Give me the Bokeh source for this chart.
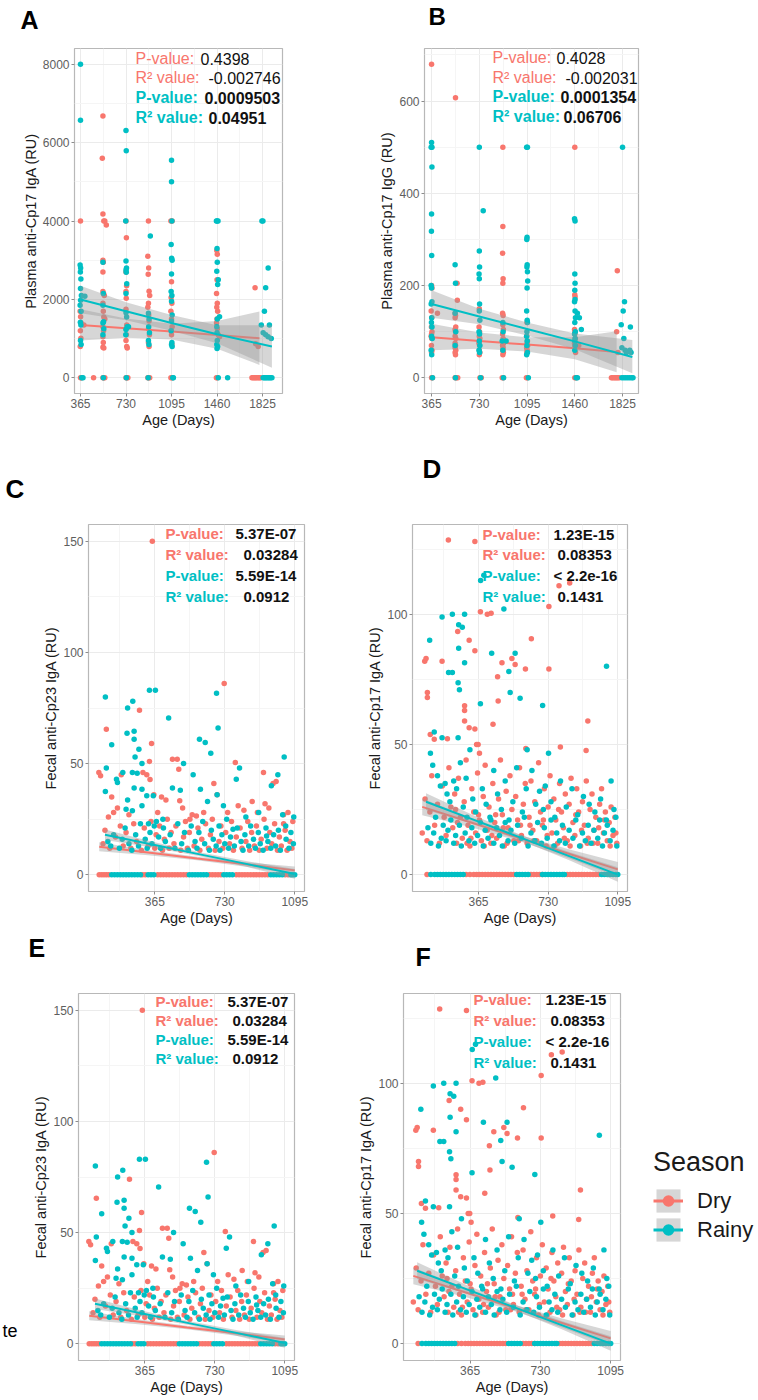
from bokeh.plotting import figure
from bokeh.models import FixedTicker, Label, Range1d, Legend, LegendItem
from bokeh.layouts import column, row
from bokeh.embed import file_html
from bokeh.resources import INLINE

DRY = "#F8766D"
RAINY = "#00BFC4"
FONT = "Liberation Sans"
season_labels = ["Dry", "Rainy"]

# ---------------- Panel A : Plasma anti-Cp17 IgA ----------------
a_dry = [(365,4000),(362,1700),(366,1560),(370,1400),(364,1200),(368,1010),(363,800),(365,0),(372,0),(392,1350),(470,0),
         (545,6680),(540,5600),(545,4180),(552,4000),(560,4000),(572,3900),(545,3000),(548,2950),(545,2700),(545,2200),
         (550,2150),(556,2100),(545,1900),(548,1700),(552,1550),(560,1500),(545,1300),(550,1200),(545,1050),(548,900),
         (545,780),(552,760),(545,0),(552,0),(560,0),
         (730,4000),(733,3570),(730,2700),(735,2350),(730,2200),(732,2030),(730,1750),(736,1350),(730,1250),(733,1100),
         (730,950),(736,800),(740,760),(730,0),(738,0),(745,0),
         (910,4000),(905,3100),(912,2800),(908,2640),(915,2210),(920,2100),(910,1900),(905,1800),(912,1600),(915,1450),
         (910,1250),(918,1100),(910,900),(915,800),(905,0),(912,0),(920,0),
         (1090,4000),(1100,4000),(1095,2450),(1092,2050),(1098,1900),(1090,1700),(1095,1500),(1100,1300),(1092,1200),
         (1095,1100),(1098,850),(1090,0),(1100,0),
         (1458,3250),(1462,3150),(1460,2500),(1456,2150),(1462,1900),(1458,1800),(1465,1700),(1460,1500),(1456,1400),
         (1462,1250),(1470,1100),(1480,1050),(1455,0),(1462,0),
         (1765,2300),(1770,870),(1790,800),(1740,0),(1750,0),(1760,0),(1770,0),(1780,0),(1790,0),(1800,0),(1810,0)]
a_rainy = [(365,8000),(365,6570),(362,2880),(366,2800),(364,2700),(368,2520),(365,2280),(372,2100),(366,1980),(362,1850),
           (370,1700),(364,1420),(368,1350),(365,950),(370,850),(375,0),(385,0),(400,2080),
           (545,2950),(548,2150),(545,1850),(550,1430),(545,1400),(552,1250),(545,1100),(548,0),
           (730,6310),(732,5790),(728,4000),(730,2980),(734,2800),(730,2750),(732,2690),(736,2400),(730,2150),(730,1660),
           (735,1550),(730,1230),(728,1100),(740,1300),(750,1300),(733,0),
           (925,3620),(910,1650),(915,1500),(912,1300),(918,1150),(910,950),(914,850),(908,0),
           (1095,5550),(1095,5000),(1098,4000),(1092,3400),(1096,3050),(1100,3000),(1095,2650),(1092,2200),(1098,2100),
           (1095,1950),(1100,1600),(1095,1450),(1092,1200),(1098,900),(1095,850),(1100,800),(1105,0),(1110,0),
           (1455,4000),(1460,4000),(1468,4000),(1460,3300),(1462,2950),(1458,2720),(1470,2500),(1465,2380),(1480,1560),
           (1462,1500),(1458,1300),(1460,1150),(1462,950),(1458,850),(1465,800),(1460,750),(1470,0),(1545,0),
           (1820,4000),(1828,4000),(1870,2800),(1850,2300),(1840,1700),(1815,1350),(1880,1350),(1830,1150),(1850,1100),
           (1870,1050),(1895,1000),(1830,0),(1840,0),(1850,0),(1860,0),(1870,0),(1880,0),(1890,0),(1900,0)]
a_fit_dry_x = [365, 730, 1095, 1460, 1800]
a_fit_dry_y = [1350, 1265, 1180, 1095, 1010]
a_fit_dry_lo = [950, 1020, 980, 740, 330]
a_fit_dry_hi = [1750, 1510, 1380, 1450, 1690]
a_fit_rainy_x = [365, 730, 1095, 1460, 1900]
a_fit_rainy_y = [2000, 1700, 1400, 1110, 800]
a_fit_rainy_lo = [1650, 1470, 1200, 880, 260]
a_fit_rainy_hi = [2350, 1930, 1600, 1340, 1340]
a_xticks = [365, 730, 1095, 1460, 1825]
a_yticks = [0, 2000, 4000, 6000, 8000]
a_stats = ["0.4398", "-0.002746", "0.0009503", "0.04951"]

# ---------------- Panel B : Plasma anti-Cp17 IgG ----------------
b_dry = [(365,680),(365,200),(368,195),(362,145),(366,130),(364,110),(368,100),(365,95),(362,90),(366,85),(364,70),(368,60),
         (365,55),(365,0),(372,0),(410,140),
         (548,607),(560,205),(562,168),(545,140),(548,135),(545,130),(550,110),(545,105),(548,100),(545,90),(550,85),
         (545,75),(548,70),(545,65),(550,60),(545,55),(548,50),(545,0),(555,0),(565,0),
         (730,150),(728,110),(732,100),(730,90),(734,85),(730,80),(728,75),(732,70),(730,60),(734,55),(730,50),(735,0),(745,0),
         (910,500),(910,328),(908,270),(912,215),(910,205),(908,140),(912,135),(910,115),(914,105),(908,95),(912,85),
         (910,80),(915,75),(908,70),(912,65),(910,60),(914,55),(910,50),(905,0),(915,0),
         (1095,120),(1092,90),(1098,80),(1095,75),(1100,70),(1092,65),(1096,60),(1094,55),(1090,0),(1098,0),
         (1460,500),(1460,180),(1462,175),(1458,105),(1462,100),(1460,95),(1464,85),(1458,75),(1462,70),(1460,65),
         (1466,55),(1460,0),(1470,0),(1490,70),
         (1785,232),(1780,100),(1790,55),(1740,0),(1750,0),(1760,0),(1770,0),(1780,0),(1790,0),(1800,0)]
b_rainy = [(365,510),(362,500),(368,500),(368,457),(365,355),(364,318),(366,265),(362,200),(365,195),(368,165),(362,160),
           (366,130),(364,120),(368,110),(365,90),(370,85),(362,60),(366,50),(372,0),
           (545,245),(548,205),(545,140),(550,100),(545,70),(548,0),
           (730,500),(730,275),(732,240),(728,225),(730,215),(732,160),(730,145),(734,125),(728,100),(732,95),(730,80),
           (734,70),(728,60),(732,55),(740,0),(760,362),
           (910,120),(912,100),(905,80),(935,80),(910,60),(915,0),
           (1092,500),(1098,500),(1095,305),(1093,300),(1096,245),(1094,240),(1098,230),(1100,210),(1095,195),(1092,145),
           (1096,125),(1098,120),(1094,100),(1092,90),(1096,80),(1094,70),(1098,55),(1092,50),(1105,0),
           (1458,345),(1462,340),(1460,225),(1462,205),(1460,190),(1462,170),(1458,165),(1462,145),(1465,130),(1460,120),
           (1464,100),(1458,95),(1462,85),(1460,80),(1464,70),(1460,60),(1480,140),(1495,130),(1510,105),(1470,0),(1480,0),
           (1825,500),(1840,165),(1830,145),(1815,115),(1835,85),(1820,65),(1845,60),(1855,55),(1885,110),(1880,60),
           (1890,55),(1820,0),(1835,0),(1850,0),(1865,0),(1880,0),(1895,0),(1905,0)]
b_fit_dry_x = [365, 730, 1095, 1460, 1780]
b_fit_dry_y = [88, 80, 72, 64, 56]
b_fit_dry_lo = [60, 63, 57, 40, 12]
b_fit_dry_hi = [117, 98, 88, 88, 101]
b_fit_rainy_x = [365, 730, 1095, 1460, 1900]
b_fit_rainy_y = [160, 133, 106, 79, 45]
b_fit_rainy_lo = [130, 116, 92, 62, 10]
b_fit_rainy_hi = [190, 150, 120, 96, 82]
b_xticks = [365, 730, 1095, 1460, 1825]
b_yticks = [0, 200, 400, 600]
b_stats = ["0.4028", "-0.002031", "0.0001354", "0.06706"]

# ---------------- Panels C / E : Fecal anti-Cp23 IgA ----------------
c_dry = [(73,46),(82,44.5),(112,65.5),(123,26),(140,35),(150,28),(170,30),(190,45),(230,27),(285,74),(303,46),(323,45),
         (337,51),(340,42.8),(348,59),(352,150),(360,36),(380,28),(400,35),(423,33.6),(457,52),(482,52),(490,47.5),
         (495,33.3),(510,30),(548,25),(560,27),(582,26.5),(620,28),(673,41),(690,36),(727,86),(745,28),(785,50.5),
         (800,31),(830,29),(873,33),(900,28),(932,46),(940,32),(960,30),(982,41),(998,42),(1037,27),(1037,23),(1060,28),
         (95,14),(105,20),(130,12),(160,17),(185,22),(200,13),(215,19),(240,12),(255,23),(270,15),(295,11),(310,21),
         (330,13),(345,24),(365,12),(372,18),(390,22),(405,11),(415,16),(430,25),(440,12),(450,19),(465,14),(475,22),
         (500,11),(515,17),(525,24),(535,12),(545,19),(570,13),(590,21),(600,11),(610,16),(630,23),(645,12),(655,18),
         (665,25),(680,11),(700,15),(710,22),(720,12),(735,19),(755,14),(765,24),(775,11),(790,17),(810,21),(820,12),
         (840,15),(850,24),(860,11),(870,19),(885,13),(895,22),(910,11),(920,16),(935,25),(950,12),(965,19),(975,14),
         (990,23),(1005,11),(1015,17),(1025,13),(1045,20),(1055,11),(1070,15),(1080,12),(1085,24)]
c_rainy = [(107,80),(112,48),(107,37.5),(140,58.5),(165,43),(170,41.5),(198,46),(215,29.5),(220,63.6),(223,75),(223,33.6),
           (248,46),(248,28.8),(250,78),(257,64.5),(257,61),(257,39),(262,53),(273,45.7),(282,56.5),(298,50),(298,38.5),
           (298,31),(323,35.5),(332,23),(337,83),(357,35.5),(368,83),(373,24),(407,25),(437,70.5),(457,39),(498,38),
           (515,50),(565,45),(598,61),(603,38.5),(628,59.5),(640,33),(657,54.6),(687,81.6),(690,36),(695,66),(723,31),
           (773,20.5),(790,43),(807,48),(840,26),(907,28),(948,17.5),(973,40),(1007,45),(1032,27),(1040,53),(1048,22),
           (120,15),(135,13),(150,18),(180,12),(195,16),(210,21),(230,14),(245,11),(265,18),(280,13),(290,23),(315,16),
           (325,12),(340,19),(350,14),(362,22),(385,17),(395,12),(410,21),(420,15),(445,18),(470,12),(485,23),(505,14),
           (520,19),(540,11),(555,22),(575,15),(585,12),(595,19),(615,24),(625,14),(650,11),(660,20),(670,16),(685,13),
           (700,22),(705,11),(715,18),(730,14),(740,25),(750,12),(760,17),(780,13),(795,21),(815,15),(825,11),(835,18),
           (855,13),(865,22),(880,16),(890,12),(905,19),(915,14),(930,11),(945,21),(955,15),(970,12),(985,18),(995,13),
           (1010,20),(1020,11),(1050,16),(1065,12),(1075,19),(1088,14),(1090,26)]
c_dry_zero_x = [75,88,100,112,125,300,315,380,395,410,425,440,455,470,485,500,515,530,650,665,680,695,710,790,805,
                820,835,850,865,880,895,910,925,940,955,1045,1060]
c_rainy_zero_x = [140,155,170,185,200,215,230,245,260,275,290,330,345,360,545,560,575,590,605,620,635,725,740,755,770,
                  970,985,1000,1015,1030,1075,1085,1095]
c_fit_dry_x = [75, 330, 585, 840, 1095]
c_fit_dry_y = [12.6, 10.0, 7.3, 4.7, 2.0]
c_fit_dry_lo = [10.6, 8.8, 6.5, 3.6, 0.3]
c_fit_dry_hi = [14.6, 11.1, 8.1, 5.7, 3.7]
c_fit_rainy_x = [105, 352, 600, 848, 1095]
c_fit_rainy_y = [18.0, 13.6, 9.2, 4.8, 0.4]
c_fit_rainy_lo = [15.6, 12.3, 8.3, 3.5, -1.8]
c_fit_rainy_hi = [20.4, 14.9, 10.1, 6.1, 2.6]
c_xticks = [365, 730, 1095]
c_yticks = [0, 50, 100, 150]
c_stats = ["5.37E-07", "0.03284", "5.59E-14", "0.0912"]

# ---------------- Panels D / F : Fecal anti-Cp17 IgA ----------------
d_dry = [(207,128.5),(346,128),(787,111),(843,112),(734,103),(375,101),(411,100),(431,100.4),(256,93.4),(316,90),
         (642,90.6),(346,86),(83,82),(90,83),(174,82),(488,81.4),(557,80.7),(611,79),(734,79),(540,83),(465,76),(97,70),
         (97,68),(468,66.7),(292,64.9),(292,63),(292,59),(316,56.4),(346,55.9),(441,57.8),(938,59),(112,53.8),(133,52),
         (202,52.2),(355,50),(363,50),(613,48.4),(794,49),(929,47.7),(370,46.6),
         (70,16),(85,29),(95,13),(110,24),(120,38),(135,19),(150,27),(160,12),(175,34),(185,22),(195,15),(210,41),
         (220,26),(230,18),(240,31),(250,12),(260,37),(270,22),(280,14),(290,28),(300,44),(310,19),(320,11),(330,33),
         (340,24),(350,16),(360,39),(370,21),(380,13),(390,30),(400,42),(410,17),(420,26),(430,12),(440,35),(450,20),
         (460,14),(470,29),(480,44),(490,23),(500,11),(510,32),(520,18),(530,38),(540,25),(550,13),(560,30),(570,21),
         (580,41),(590,15),(600,27),(610,35),(620,12),(630,22),(640,36),(650,17),(660,28),(670,13),(680,43),(690,24),
         (700,19),(710,33),(720,11),(730,26),(740,38),(750,16),(760,29),(770,21),(780,12),(790,35),(800,24),(810,18),
         (820,31),(830,13),(840,27),(850,37),(860,20),(870,15),(880,33),(890,24),(900,11),(910,28),(920,19),(930,36),
         (940,14),(950,25),(960,31),(970,17),(980,22),(990,12),(1000,27),(1010,33),(1020,16),(1030,24),(1040,13),
         (1050,20),(1060,26),(1070,15),(1080,22),(1090,12),
         (255,20),(325,14),(395,11),(455,23),(515,12),(585,19),(655,13),(705,21),(765,11),(815,14),(875,23),(935,12),
         (995,18),(1055,11),(245,25),(305,12),(365,23),(435,15),(495,18),(575,13),(635,19),(725,15),(785,25),(845,11),
         (905,17),(965,12),(1025,21),(1085,16)]
d_rainy = [(376,113),(393,115),(498,102),(174,99),(228,100),(292,100),(261,96),(280,95),(109,90),(261,87),(434,85),
           (557,85),(292,81.4),(208,77.6),(228,77.6),(1036,80),(524,78),(258,73.7),(265,71),(531,70),(583,67.7),
           (375,65.6),(701,65),(133,54.8),(174,52.6),(258,52.6),(320,48),(620,48),(732,46.6),(113,46.6),
           (125,42),(150,38),(165,34),(190,35),(200,31),(215,28),(235,36),(250,33),(270,43),(285,26),(300,37),(335,29),
           (350,24),(385,33),(405,27),(425,22),(445,40),(465,31),(485,25),(505,36),(525,21),(545,28),(565,41),(595,24),
           (615,33),(645,40),(665,27),(685,32),(705,25),(715,34),(745,28),(765,22),(795,36),(825,26),(855,33),(885,23),
           (915,30),(945,27),(975,24),(1005,29),(1035,21),(1060,36),(1075,25),(1085,22),
           (100,18),(115,12),(130,16),(140,22),(155,11),(170,14),(180,19),(195,13),(205,17),(220,21),(235,12),(245,15),
           (265,19),(275,11),(295,16),(305,22),(315,13),(330,18),(345,12),(360,15),(375,20),(390,11),(400,17),(415,14),
           (430,21),(445,12),(460,18),(475,15),(490,11),(505,20),(520,13),(535,17),(555,12),(570,19),(590,14),(605,22),
           (625,11),(640,16),(660,13),(675,20),(695,12),(710,18),(725,14),(745,21),(760,11),(775,16),(790,13),(805,19),
           (820,12),(840,17),(860,14),(875,21),(895,11),(910,16),(925,13),(940,19),(955,12),(970,17),(990,14),(1000,21),
           (1015,11),(1025,16),(1040,19),(1055,13),(1070,17),(1090,11)]
d_dry_zero_x = [95,300,320,340,355,370,385,400,415,430,445,460,475,490,505,520,535,550,640,655,670,685,700,830,845,
                860,875,890,905,920,935,950,965,980,995]
d_rainy_zero_x = [115,135,150,165,180,195,210,225,240,255,270,285,565,580,595,610,625,700,715,730,745,760,775,790,805,
                  815,1010,1025,1040,1055,1070,1085,1095]
d_fit_dry_x = [70, 326, 582, 838, 1095]
d_fit_dry_y = [26.0, 20.0, 14.0, 8.0, 2.0]
d_fit_dry_lo = [22.8, 18.2, 12.8, 6.3, -0.8]
d_fit_dry_hi = [29.2, 21.8, 15.2, 9.7, 4.8]
d_fit_rainy_x = [90, 341, 592, 844, 1095]
d_fit_rainy_y = [28.0, 21.0, 14.0, 7.0, 0.0]
d_fit_rainy_lo = [24.8, 19.3, 12.9, 5.4, -2.8]
d_fit_rainy_hi = [31.2, 22.7, 15.1, 8.6, 2.8]
d_xticks = [365, 730, 1095]
d_yticks = [0, 50, 100]
d_stats = ["1.23E-15", "0.08353", "< 2.2e-16", "0.1431"]

stat_labels = ["P-value:", "R\u00b2 value:", "P-value:", "R\u00b2 value:"]
stat_colors = [DRY, DRY, RAINY, RAINY]


def mids(t, lo, hi):
    step = t[1] - t[0]
    out = [t[0] - step / 2] + [(a + b) / 2 for a, b in zip(t[:-1], t[1:])] + [t[-1] + step / 2]
    return [m for m in out if lo < m < hi]


def make_panel(g, xr, yr, xticks, yticks, ylabel, tick_fs, lab_fs):
    fw, fh = g["w"], g["h"]
    p = figure(width=fw, height=fh, x_range=Range1d(*xr), y_range=Range1d(*yr),
               output_backend="svg", toolbar_location=None,
               min_border_left=g["l"], min_border_right=fw - g["l"] - g["fw"],
               min_border_top=g["t"], min_border_bottom=fh - g["t"] - g["fh"])
    p.xaxis.ticker = FixedTicker(ticks=xticks, minor_ticks=mids(xticks, *xr))
    p.yaxis.ticker = FixedTicker(ticks=yticks, minor_ticks=mids(yticks, *yr))
    p.xaxis.major_label_overrides = {t: str(t) for t in xticks}
    p.yaxis.major_label_overrides = {t: str(t) for t in yticks}
    p.xaxis.axis_label = "Age (Days)"
    p.yaxis.axis_label = ylabel
    p.grid.grid_line_color = "#EBEBEB"
    p.grid.minor_grid_line_color = "#F5F5F5"
    p.axis.axis_line_color = None
    p.axis.major_tick_out = 3
    p.axis.major_tick_in = 0
    p.axis.minor_tick_out = 0
    p.axis.minor_tick_in = 0
    p.axis.major_tick_line_color = "#8C8C8C"
    p.axis.major_label_text_color = "#5E5E5E"
    p.axis.major_label_text_font = FONT
    p.axis.major_label_text_font_size = tick_fs
    p.axis.major_label_standoff = 2
    p.axis.axis_label_text_font = FONT
    p.axis.axis_label_text_font_size = lab_fs
    p.axis.axis_label_text_font_style = "normal"
    p.axis.axis_label_text_color = "#1A1A1A"
    p.axis.axis_label_standoff = 1
    p.outline_line_color = "#B8B8B8"
    p.outline_line_width = 1.2
    p.background_fill_color = "white"
    p.border_fill_color = "white"
    return p


def make_blank(g, frame_top=0, frame_h=None):
    p = figure(width=g["w"], height=g["h"], x_range=Range1d(0, 1), y_range=Range1d(0, 1),
               x_axis_type=None, y_axis_type=None, output_backend="svg", toolbar_location=None,
               min_border=0, min_border_left=0, min_border_right=0, min_border_top=0, min_border_bottom=0)
    p.outline_line_color = None
    p.background_fill_color = "white"
    p.border_fill_color = "white"
    # the frame of a blank plot is aligned with its row neighbours' frames
    g["l"], g["t"], g["fh"] = 0, frame_top, (g["h"] if frame_h is None else frame_h)
    return p


def draw_series(p, pts, zeros, fx, fy, flo, fhi, color):
    xs = [q[0] for q in pts] + list(zeros)
    ys = [q[1] for q in pts] + [0] * len(zeros)
    sc = p.scatter(xs, ys, size=5.5, fill_color=color, line_color=None)
    band = p.varea(x=fx, y1=flo, y2=fhi, fill_color="#999999", fill_alpha=0.4)
    ln = p.line(fx, fy, line_color=color, line_width=2)
    return sc, band, ln


def add_text(p, g, px, py, text, color, bold, size):
    p.add_layout(Label(x=px - g["l"] - g["x0"], y=(g["y0"] + g["t"] + g["fh"]) - py,
                       x_units="screen", y_units="screen", text=text,
                       text_color=color, text_font=FONT, text_font_size=size,
                       text_font_style="bold" if bold else "normal",
                       text_baseline="middle", text_align="left"))


def add_stats(p, g, lx, ys, vxs, stats, bolds, size):
    for i in range(4):
        add_text(p, g, lx, ys[i], stat_labels[i], stat_colors[i], bolds[i], size)
        add_text(p, g, vxs[i], ys[i], stats[i], "#111111", bolds[i], size)


# layout geometry (canvas px): figure origin, size, frame offset and frame size
gS1 = dict(x0=0, y0=0, w=758, h=36)
gA = dict(x0=0, y0=36, w=348, h=414, l=74, t=10, fw=208, fh=347)
gB = dict(x0=348, y0=36, w=410, h=414, l=76, t=12, fw=214, fh=349)
gS2 = dict(x0=0, y0=450, w=758, h=55)
gC = dict(x0=0, y0=505, w=348, h=430, l=88, t=19, fw=216, fh=367)
gD = dict(x0=348, y0=505, w=410, h=430, l=64, t=19, fw=215, fh=367)
gS3 = dict(x0=0, y0=935, w=758, h=40)
gTe = dict(x0=0, y0=975, w=20, h=425)
gE = dict(x0=20, y0=975, w=328, h=425, l=58, t=18, fw=216, fh=368)
gF = dict(x0=348, y0=975, w=292, h=425, l=55, t=17, fw=217, fh=368)
gL = dict(x0=640, y0=975, w=118, h=425)

XR_CF = (19, 1146)

# ---- panel letters ----
s1 = make_blank(gS1)
add_text(s1, gS1, 20, 19, "A", "#000000", True, "25px")
add_text(s1, gS1, 428, 16, "B", "#000000", True, "24px")
s2 = make_blank(gS2)
add_text(s2, gS2, 5, 488, "C", "#000000", True, "26px")
add_text(s2, gS2, 422, 468, "D", "#000000", True, "26px")
s3 = make_blank(gS3)
add_text(s3, gS3, 28, 947, "E", "#000000", True, "25px")
add_text(s3, gS3, 415, 956, "F", "#000000", True, "25px")

# ---- A ----
pA = make_panel(gA, (317, 1985), (-400, 8400), a_xticks, a_yticks, "Plasma anti-Cp17 IgA (RU)", "12px", "14.5px")
draw_series(pA, a_dry, [], a_fit_dry_x, a_fit_dry_y, a_fit_dry_lo, a_fit_dry_hi, DRY)
draw_series(pA, a_rainy, [], a_fit_rainy_x, a_fit_rainy_y, a_fit_rainy_lo, a_fit_rainy_hi, RAINY)
add_stats(pA, gA, 135, [58, 77, 97, 117], [200, 208, 204, 208], a_stats, [False, False, True, True], "16px")

# ---- B ----
pB = make_panel(gB, (311, 1947), (-34, 714), b_xticks, b_yticks, "Plasma anti-Cp17 IgG (RU)", "12px", "14.5px")
draw_series(pB, b_dry, [], b_fit_dry_x, b_fit_dry_y, b_fit_dry_lo, b_fit_dry_hi, DRY)
draw_series(pB, b_rainy, [], b_fit_rainy_x, b_fit_rainy_y, b_fit_rainy_lo, b_fit_rainy_hi, RAINY)
add_stats(pB, gB, 492, [61, 81, 100, 120], [556, 565, 560, 563], b_stats, [False, False, True, True], "16px")

# ---- C ----
pC = make_panel(gC, XR_CF, (-7.5, 157.5), c_xticks, c_yticks, "Fecal anti-Cp23 IgA (RU)", "12px", "14.5px")
draw_series(pC, c_dry, c_dry_zero_x, c_fit_dry_x, c_fit_dry_y, c_fit_dry_lo, c_fit_dry_hi, DRY)
draw_series(pC, c_rainy, c_rainy_zero_x, c_fit_rainy_x, c_fit_rainy_y, c_fit_rainy_lo, c_fit_rainy_hi, RAINY)
add_stats(pC, gC, 165, [533, 554, 575, 596], [235, 243, 235, 243], c_stats, [True] * 4, "15px")

# ---- D ----
pD = make_panel(gD, XR_CF, (-6.5, 134.5), d_xticks, d_yticks, "Fecal anti-Cp17 IgA (RU)", "12px", "14.5px")
draw_series(pD, d_dry, d_dry_zero_x, d_fit_dry_x, d_fit_dry_y, d_fit_dry_lo, d_fit_dry_hi, DRY)
draw_series(pD, d_rainy, d_rainy_zero_x, d_fit_rainy_x, d_fit_rainy_y, d_fit_rainy_lo, d_fit_rainy_hi, RAINY)
add_stats(pD, gD, 482, [534, 554, 575, 596], [553, 557, 553, 557], d_stats, [True] * 4, "15px")

# ---- stray text at the left edge (frame aligned with panel E) ----
pTe = make_blank(gTe, frame_top=18, frame_h=368)
add_text(pTe, gTe, 2, 1331, "te", "#000000", False, "18px")

# ---- E ----
pE = make_panel(gE, XR_CF, (-7.5, 157.5), c_xticks, c_yticks, "Fecal anti-Cp23 IgA (RU)", "12px", "14.5px")
draw_series(pE, c_dry, c_dry_zero_x, c_fit_dry_x, c_fit_dry_y, c_fit_dry_lo, c_fit_dry_hi, DRY)
draw_series(pE, c_rainy, c_rainy_zero_x, c_fit_rainy_x, c_fit_rainy_y, c_fit_rainy_lo, c_fit_rainy_hi, RAINY)
add_stats(pE, gE, 155, [1002, 1021, 1040, 1059], [227, 232, 227, 232], c_stats, [True] * 4, "15px")

# ---- F ----
pF = make_panel(gF, XR_CF, (-6.5, 134.5), d_xticks, d_yticks, "Fecal anti-Cp17 IgA (RU)", "12px", "14.5px")
draw_series(pF, d_dry, d_dry_zero_x, d_fit_dry_x, d_fit_dry_y, d_fit_dry_lo, d_fit_dry_hi, DRY)
draw_series(pF, d_rainy, d_rainy_zero_x, d_fit_rainy_x, d_fit_rainy_y, d_fit_rainy_lo, d_fit_rainy_hi, RAINY)
add_stats(pF, gF, 473, [999, 1020, 1041, 1062], [545, 550, 545, 550], d_stats, [True] * 4, "15px")

# ---- legend (Season); proxy renderers sit outside the blank plot's range ----
pL = make_blank(gL, frame_top=18, frame_h=368)
proxy_x, proxy_y = [-5.0, -4.0], [-5.0, -4.0]
leg_items = []
for lab, col in zip(season_labels, [DRY, RAINY]):
    r_band = pL.varea(x=proxy_x, y1=proxy_y, y2=proxy_x, fill_color="#999999", fill_alpha=0.4)
    r_line = pL.line(x=proxy_x, y=proxy_y, line_color=col, line_width=3)
    r_pts = pL.scatter(x=proxy_x, y=proxy_y, size=8, fill_color=col, line_color=None)
    leg_items.append(LegendItem(label=lab, renderers=[r_band, r_line, r_pts]))
legend = Legend(items=leg_items, location=(653 - gL["x0"], (gL["y0"] + gL["t"] + gL["fh"]) - 1245), title="Season")
legend.title_text_font = FONT
legend.title_text_font_size = "27px"
legend.title_text_font_style = "normal"
legend.title_text_color = "#1A1A1A"
legend.title_standoff = 8
legend.label_text_font = FONT
legend.label_text_font_size = "22px"
legend.label_text_color = "#1A1A1A"
legend.glyph_width = 30
legend.glyph_height = 29
legend.label_height = 29
legend.spacing = 0
legend.padding = 0
legend.margin = 0
legend.label_standoff = 14
legend.border_line_alpha = 0
legend.background_fill_alpha = 0
pL.add_layout(legend)

layout = column(s1, row(pA, pB), s2, row(pC, pD), s3, row(pTe, pE, pF, pL))
open("out.html", "w").write(file_html(layout, INLINE))
